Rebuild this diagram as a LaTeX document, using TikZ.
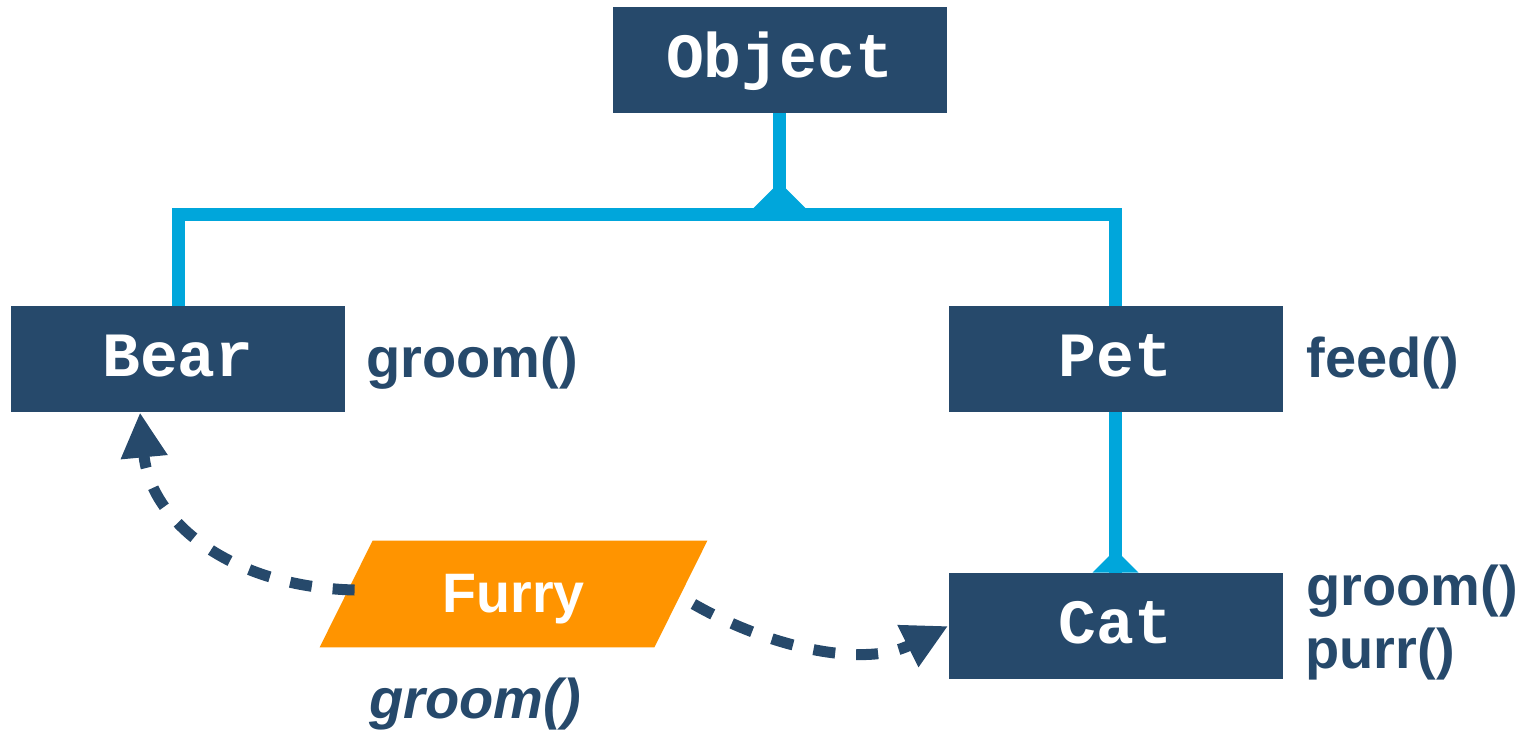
\documentclass[tikz,border=0pt]{standalone}
\usepackage{fontspec}
\setmainfont{Liberation Sans}
\newfontfamily\codefont{Liberation Mono}
\usetikzlibrary{arrows.meta,calc}
\definecolor{navy}{RGB}{38,73,107}
\definecolor{linkblue}{RGB}{0,166,219}
\definecolor{furryorange}{RGB}{255,148,0}
\begin{document}
\begin{tikzpicture}[x=0.5pt,y=-0.5pt,
  classbox/.style={fill=navy,text=white,minimum width=167pt,minimum height=53pt,
    inner sep=0pt,font=\codefont\bfseries\fontsize{31.5pt}{36pt}\selectfont,
    text height=17pt,text depth=0pt},
  method/.style={anchor=base west,inner sep=0pt,text=navy,
    font=\bfseries\fontsize{28pt}{32pt}\selectfont},
  inherit/.style={draw=linkblue,line width=6.5pt},
  flare/.style={fill=linkblue},
  realizes/.style={draw=navy,line width=5.5pt,dash pattern=on 11pt off 10.5pt,
    -{Triangle[length=22.5pt,width=22pt]}}]
\useasboundingbox (0,0) rectangle (1528,736);

% classes
\node[classbox] (object) at (779.5,60) {Object};
\node[classbox] (bear) at (178,359) {Bear};
\node[classbox] (pet) at (1115.5,359) {Pet};
\node[classbox] (cat) at (1115.5,626) {Cat};

% interface (parallelogram)
\node[minimum width=193.5pt,minimum height=53pt,inner sep=0pt] (furry) at (513.5,594) {};
\fill[furryorange] ($(furry.north west)+(53,0)$) -- (furry.north east)
  -- ($(furry.south east)+(-53,0)$) -- (furry.south west) -- cycle;
\node[text=white,inner sep=0pt,text height=18pt,text depth=0pt,
  font=\bfseries\fontsize{27.8pt}{32pt}\selectfont] (furrylabel) at (furry.center) {Furry};

% inheritance tree
\coordinate (hub) at (779.5,214.5);
\draw[inherit] (object.south) -- (hub);
\draw[inherit] (bear.north) |- (hub) -| (pet.north);
\fill[flare] ($(hub)+(-26.5,-6)$) -- ($(hub)+(-6.5,-26)$) -- ($(hub)+(6.5,-26)$)
  -- ($(hub)+(26.5,-6)$) -- cycle;
\draw[inherit] (pet.south) -- (cat.north);
\fill[flare] ($(cat.north)+(-23,0)$) -- ($(cat.north)+(-6.5,-16.5)$)
  -- ($(cat.north)+(6.5,-16.5)$) -- ($(cat.north)+(23,0)$) -- cycle;

% interface realisation
\draw[realizes] ($(furry.west)+(35,-4)$) .. controls +(-125,-3) and +(10,108) .. ($(bear.south)+(-38,0)$);
\draw[realizes] ($(furry.east)+(-14,10)$) .. controls +(77,44) and +(-84,42) .. (cat.west);

% methods
\node[method] (bearm) at (366,377) {groom()};
\node[method] (petm) at (1306,377) {feed()};
\node[method] (catm1) at (1306,605) {groom()};
\node[method] (catm2) at (1305,668) {purr()};
\node[method,font=\bfseries\itshape\fontsize{28pt}{32pt}\selectfont] (furrym) at (369,718) {groom()};
\end{tikzpicture}
\end{document}
